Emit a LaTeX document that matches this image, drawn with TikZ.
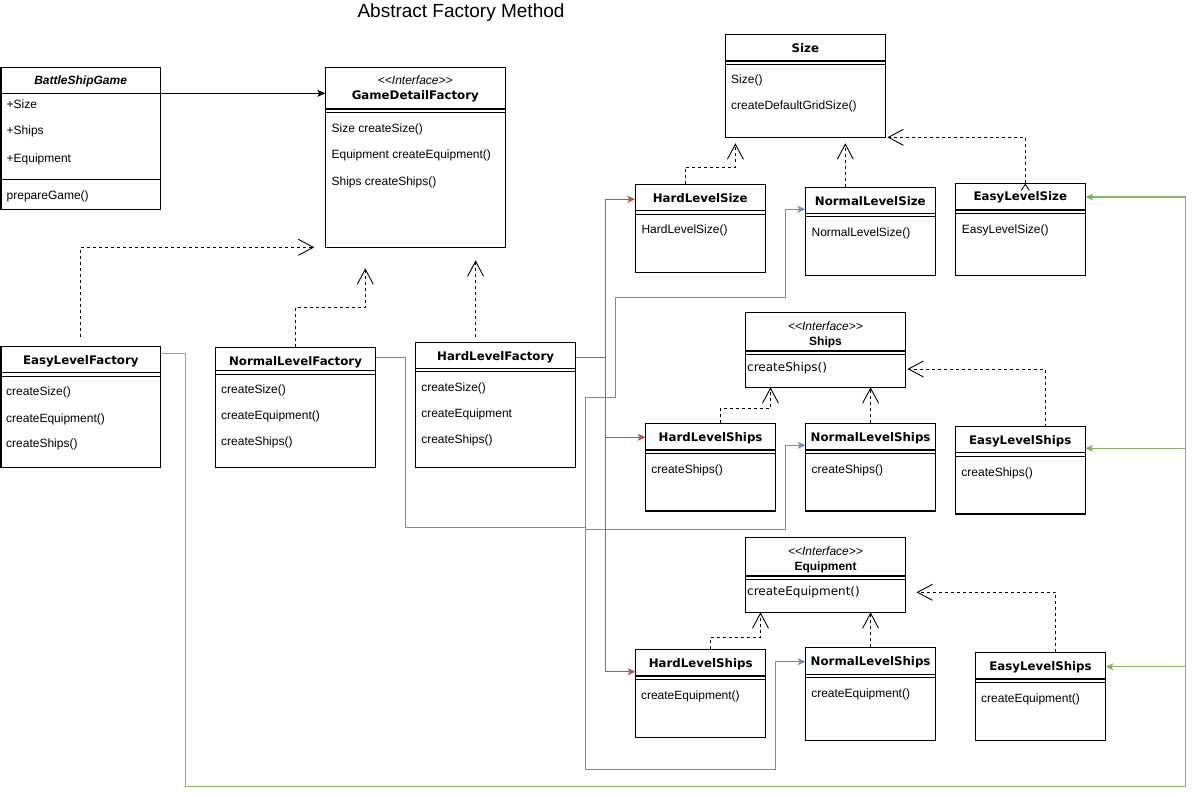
\documentclass[tikz,border=0pt]{standalone}
\usepackage{fontspec}
\setmainfont{Liberation Sans}
\newfontfamily\dejavu{DejaVu Sans}
\usetikzlibrary{arrows.meta}
\definecolor{hardc}{HTML}{B85450}
\definecolor{normc}{HTML}{6C8EBF}
\definecolor{easyc}{HTML}{82B366}
\newcommand{\dsep}[2]{%
  \draw[sepln] ([yshift=-#2]#1.north west) -- ([yshift=-#2]#1.north east);
  \draw[sepln] ([yshift=-#2-3.5]#1.north west) -- ([yshift=-#2-3.5]#1.north east);}
\tikzset{
  cls/.style={draw, line width=1.2pt, anchor=north west, inner sep=0pt, outer sep=0pt},
  sepln/.style={line width=1.2pt},
  cname/.style={inner sep=0pt, text height=9pt, text depth=2pt, font=\fontsize{11.8}{14}\selectfont\dejavu\bfseries},
  iname/.style={inner sep=0pt, text height=9pt, text depth=2pt, font=\fontsize{12}{14}\selectfont\bfseries},
  stereo/.style={inner sep=0pt, text height=9pt, text depth=2pt, font=\fontsize{12}{14}\selectfont\itshape},
  meth/.style={anchor=west, inner sep=0pt, text height=9pt, text depth=3pt, font=\fontsize{12}{14}\selectfont},
  imeth/.style={meth, font=\fontsize{12}{14}\selectfont\dejavu},
  realize/.style={line width=0.9pt, dash pattern=on 3pt off 3pt, -{Straight Barb[length=15pt,width=16pt]}},
  assoc/.style={line width=0.9pt, -{Stealth[length=8pt,width=7pt,inset=2pt]}},
  hardln/.style={assoc, line width=1.1pt, color=hardc},
  normln/.style={assoc, line width=1.1pt, color=normc},
  easyln/.style={assoc, line width=1.1pt, color=easyc}
}
\begin{document}
\begin{tikzpicture}[x=1pt,y=-1pt]
  \useasboundingbox (0,0) rectangle (1194,797);
  \node[inner sep=0pt, font=\fontsize{19}{22}\selectfont] (title) at (461,13) {Abstract Factory Method};

  % client and factory interface
  \node[cls, minimum width=159.5pt, minimum height=141.5pt] (bsg) at (1,67.7) {};
  \node[cname, font=\fontsize{12}{14}\selectfont\bfseries\itshape] (bsgT) at (80.6,80.7) {BattleShipGame};
  \draw[sepln] ([yshift=-25.6]bsg.north west) -- ([yshift=-25.6]bsg.north east);
  \draw[sepln] ([yshift=-111.6]bsg.north west) -- ([yshift=-111.6]bsg.north east);
  \node[meth] (bsgA1) at (6.5,106)   {+Size};
  \node[meth] (bsgA2) at (6.5,131.7) {+Ships};
  \node[meth] (bsgA3) at (6.5,160)   {+Equipment};
  \node[meth] (bsgM1) at (6.5,196)   {prepareGame()};

  \node[cls, minimum width=180pt, minimum height=179.6pt] (gdf) at (325.3,67.7) {};
  \node[stereo] (gdfS) at (415.3,80.7) {<{}<Interface>{}>};
  \node[cname] (gdfT) at (415.3,96) {GameDetailFactory};
  \dsep{gdf}{41.3}
  \node[meth] (gdfM1) at (331.4,130)   {Size createSize()};
  \node[meth] (gdfM2) at (331.4,155.7) {Equipment createEquipment()};
  \node[meth] (gdfM3) at (331.4,182)   {Ships createShips()};

  % concrete factories
  \node[cls, minimum width=159.5pt, minimum height=121pt] (elf) at (1,346.7) {};
  \node[cname] (elfT) at (80.8,360.7) {EasyLevelFactory};
  \dsep{elf}{26}
  \node[meth] (elfM1) at (6,392.7) {createSize()};
  \node[meth] (elfM2) at (6,419)   {createEquipment()};
  \node[meth] (elfM3) at (6,444.7) {createShips()};

  \node[cls, minimum width=160pt, minimum height=120.4pt] (nlf) at (215.5,347.3) {};
  \node[cname] (nlfT) at (295.5,361.7) {NormalLevelFactory};
  \dsep{nlf}{23.4}
  \node[meth] (nlfM1) at (221,390.7) {createSize()};
  \node[meth] (nlfM2) at (221,416.7) {createEquipment()};
  \node[meth] (nlfM3) at (221,442.7) {createShips()};

  \node[cls, minimum width=160pt, minimum height=125pt] (hlf) at (415.6,342.7) {};
  \node[cname] (hlfT) at (495.6,356.7) {HardLevelFactory};
  \dsep{hlf}{25.6}
  \node[meth] (hlfM1) at (421.1,388.7) {createSize()};
  \node[meth] (hlfM2) at (421.1,414.7) {createEquipment};
  \node[meth] (hlfM3) at (421.1,440.7) {createShips()};

  % size products
  \node[cls, minimum width=160pt, minimum height=103pt] (size) at (725.4,34.3) {};
  \node[cname] (sizeT) at (805.4,48.7) {Size};
  \dsep{size}{26.7}
  \node[meth] (sizeM1) at (731,81)    {Size()};
  \node[meth] (sizeM2) at (731,106.7) {createDefaultGridSize()};

  \node[cls, minimum width=130pt, minimum height=88pt] (hls) at (635.2,184.3) {};
  \node[cname] (hlsT) at (700.2,198.7) {HardLevelSize};
  \dsep{hls}{26.4}
  \node[meth] (hlsM) at (641.3,230.7) {HardLevelSize()};

  \node[cls, minimum width=130pt, minimum height=88pt] (nls) at (805.3,187.3) {};
  \node[cname] (nlsT) at (870.3,201.7) {NormalLevelSize};
  \dsep{nls}{26}
  \node[meth] (nlsM) at (811.4,233.3) {NormalLevelSize()};

  \node[cls, minimum width=130pt, minimum height=92pt] (els) at (955.3,183.3) {};
  \node[cname] (elsT) at (1020.3,197.3) {EasyLevelSize};
  \dsep{els}{26.7}
  \node[meth] (elsM) at (961.7,230) {EasyLevelSize()};

  % ships products
  \node[cls, minimum width=160pt, minimum height=75pt] (ships) at (745.5,312.3) {};
  \node[stereo] (shipsS) at (825.5,326.7) {<{}<Interface>{}>};
  \node[iname] (shipsT) at (825.5,341.7) {Ships};
  \dsep{ships}{38.7}
  \node[imeth] (shipsM) at (747,368.3) {createShips()};

  \node[cls, minimum width=130pt, minimum height=87.7pt] (hlsh) at (645.6,423.3) {};
  \node[cname] (hlshT) at (710.6,437.7) {HardLevelShips};
  \dsep{hlsh}{26.7}
  \node[meth] (hlshM) at (651.2,470) {createShips()};

  \node[cls, minimum width=130pt, minimum height=87.7pt] (nlsh) at (805.6,423.3) {};
  \node[cname] (nlshT) at (870.6,437.7) {NormalLevelShips};
  \dsep{nlsh}{26.7}
  \node[meth] (nlshM) at (811.5,470) {createShips()};

  \node[cls, minimum width=130pt, minimum height=87.3pt] (elsh) at (955.2,426.7) {};
  \node[cname] (elshT) at (1020.2,441) {EasyLevelShips};
  \dsep{elsh}{26}
  \node[meth] (elshM) at (961.2,473.3) {createShips()};

  % equipment products
  \node[cls, minimum width=160pt, minimum height=75pt] (equip) at (745.5,537.3) {};
  \node[stereo] (equipS) at (825.5,552.3) {<{}<Interface>{}>};
  \node[iname] (equipT) at (825.5,566.7) {Equipment};
  \dsep{equip}{38.7}
  \node[imeth] (equipM) at (747,592.7) {createEquipment()};

  \node[cls, minimum width=130pt, minimum height=88pt] (hleq) at (635.7,649.3) {};
  \node[cname] (hleqT) at (700.7,664) {HardLevelShips};
  \dsep{hleq}{26.7}
  \node[meth] (hleqM) at (640.8,696) {createEquipment()};

  \node[cls, minimum width=130pt, minimum height=93pt] (nleq) at (805.6,647.3) {};
  \node[cname] (nleqT) at (870.6,661.7) {NormalLevelShips};
  \dsep{nleq}{27}
  \node[meth] (nleqM) at (811.1,694) {createEquipment()};

  \node[cls, minimum width=130pt, minimum height=88pt] (eleq) at (975.5,652.3) {};
  \node[cname] (eleqT) at (1040.5,666.7) {EasyLevelShips};
  \dsep{eleq}{26.7}
  \node[meth] (eleqM) at (981,699.3) {createEquipment()};

  % client uses the factory
  \draw[assoc] ([yshift=-25.6]bsg.north east) -- ([yshift=-25.6]gdf.north west);

  % realizations
  \draw[realize] ([yshift=10]elf.north) |- ([xshift=-11]gdf.south west);
  \draw[realize] (nlf.north) -- ++(0,-40) -| ([xshift=40,yshift=-21]gdf.south west);
  \draw[realize] ([xshift=-20,yshift=6]hlf.north) -- ([xshift=-20,yshift=-13]hlf.north |- gdf.south);
  \draw[realize] ([xshift=-15]hls.north) -- ++(0,-17) -| ([xshift=10,yshift=-6]size.south west);
  \draw[realize] ([xshift=-25]nls.north) -- ([xshift=-25,yshift=-6]nls.north |- size.south);
  \draw[realize] ([xshift=5]els.north) |- ([xshift=2]size.south east);
  \draw[line width=0.8pt] ([xshift=1,yshift=-7]els.north) -- ([xshift=5,yshift=-1]els.north) -- ([xshift=9,yshift=-7]els.north);
  \draw[realize] ([xshift=10]hlsh.north) -- ++(0,-15) -| ([xshift=25]ships.south west);
  \draw[realize] (nlsh.north) -- (nlsh.north |- ships.south);
  \draw[realize] ([xshift=25]elsh.north) |- ([xshift=2,yshift=-56.7]ships.north east);
  \draw[realize] ([xshift=10]hleq.north) -- ++(0,-12) -| ([xshift=15]equip.south west);
  \draw[realize] (nleq.north) -- (nleq.north |- equip.south);
  \draw[realize] ([xshift=15]eleq.north) |- ([xshift=11,yshift=-55]equip.north east);

  % hard level factory creates
  \draw[hardln] ([yshift=-14.6]hlf.north east) -| ([xshift=-30,yshift=-15]hls.north west) -- ([yshift=-15]hls.north west);
  \draw[hardln] ([yshift=-14.6]hlf.north east) -| ([xshift=-40.4,yshift=-14]hlsh.north west) -- ([yshift=-14]hlsh.north west);
  \draw[hardln] ([yshift=-14.6]hlf.north east) -| ([xshift=-30.5,yshift=-22.4]hleq.north west) -- ([yshift=-22.4]hleq.north west);

  % normal level factory creates
  \draw[normln] ([yshift=-10]nlf.north east) -| ++(30,170) -| ++(180,-130) -| ++(30,-100) -| ([xshift=-20,yshift=-22]nls.north west) -- ([yshift=-22]nls.north west);
  \draw[normln] ([yshift=-10]nlf.north east) -| ++(30,170) -- ++(180,0) -- ++(0,2) -| ([xshift=-20,yshift=-22]nlsh.north west) -- ([yshift=-22]nlsh.north west);
  \draw[normln] ([yshift=-10]nlf.north east) -| ++(30,170) -| ++(180,242) -| ([xshift=-30,yshift=-14.4]nleq.north west) -- ([yshift=-14.4]nleq.north west);

  % easy level factory creates
  \draw[easyln] ([yshift=-6.6]elf.north east) -| ++(24.8,433.4) -| ([xshift=100,yshift=-13.7]els.north east) -- ([yshift=-13.7]els.north east);
  \draw[easyln] ([yshift=-6.6]elf.north east) -| ++(24.8,433.4) -| ([xshift=100,yshift=-21.6]elsh.north east) -- ([yshift=-21.6]elsh.north east);
  \draw[easyln] ([yshift=-6.6]elf.north east) -| ++(24.8,433.4) -| ([xshift=80,yshift=-14.4]eleq.north east) -- ([yshift=-14.4]eleq.north east);
\end{tikzpicture}
\end{document}
